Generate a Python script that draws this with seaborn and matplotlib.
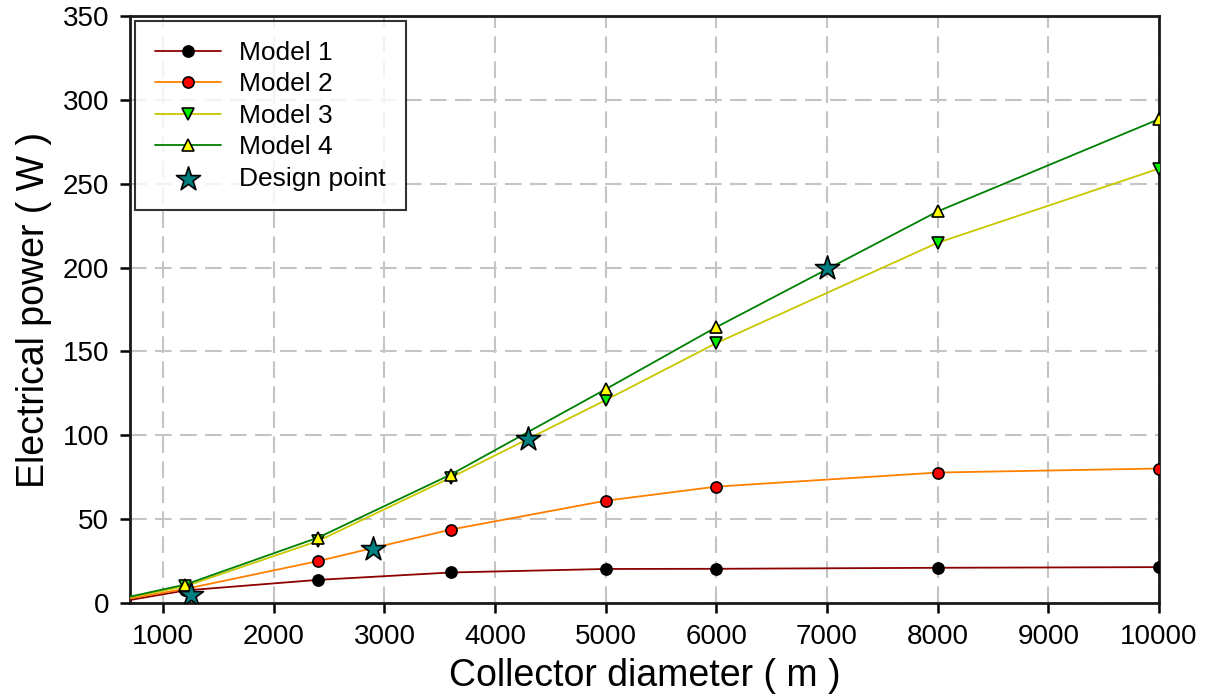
import numpy as np
import pandas as pd
import seaborn as sns
import matplotlib.pyplot as plt

# collector diameter (m); first value is where the curves start, without a marker
diameter = [700, 1200, 2400, 3600, 5000, 6000, 8000, 10000]

# electrical power (W)
model_1 = [1.8, 7.5, 13.8, 18.2, 20.3, 20.4, 21.0, 21.4]
model_2 = [2.8, 8.4, 25.0, 43.8, 61.0, 69.4, 77.8, 80.2]
model_3 = [3.5, 10.0, 37.0, 74.8, 121.0, 155.0, 214.8, 259.0]
model_4 = [3.8, 11.0, 39.0, 76.6, 127.5, 164.5, 233.5, 288.5]

design_x = [1250, 2900, 4300, 7000]
design_y = [5, 32, 98, 200]

x_ticks = [1000, 2000, 3000, 4000, 5000, 6000, 7000, 8000, 9000, 10000]
y_ticks = [0, 50, 100, 150, 200, 250, 300, 350]

sns.set_style("white")
plt.rcParams["font.family"] = ["Liberation Sans", "DejaVu Sans"]
plt.rcParams["text.color"] = "black"
plt.rcParams["axes.labelcolor"] = "black"
plt.rcParams["xtick.color"] = "black"
plt.rcParams["ytick.color"] = "black"

fig = plt.figure(figsize=(12.08, 6.96), dpi=100)
ax = fig.add_axes([0.1076, 0.1336, 0.8518, 0.8434])

styles = [
    ("Model 1", model_1, "#8b0000", "o", "black"),
    ("Model 2", model_2, "#ff8000", "o", "#ff0000"),
    ("Model 3", model_3, "#c8c800", "v", "#00ee00"),
    ("Model 4", model_4, "#008000", "^", "#ffff00"),
]

for name, vals, col, mk, face in styles:
    df = pd.DataFrame({"x": diameter, "y": vals})
    sns.lineplot(data=df, x="x", y="y", ax=ax, color=col, lw=1.3, label=name,
                 marker=mk, markersize=8, markerfacecolor=face,
                 markeredgecolor="black", markeredgewidth=1.2,
                 markevery=list(range(1, len(diameter))), zorder=3)

sns.scatterplot(x=design_x, y=design_y, ax=ax, marker="*", s=330,
                color="#008080", edgecolor="black", linewidth=1.2,
                label="Design point", zorder=4)

ax.set_xlim(700, 10000)
ax.set_ylim(0, 350)
ax.set_xticks(x_ticks)
ax.set_yticks(y_ticks)

ax.grid(True, color="#c4c4c4", lw=1.5, linestyle=(0, (8, 4)))
ax.set_axisbelow(True)

for s in ax.spines.values():
    s.set_linewidth(2)
    s.set_color("#1a1a1a")

ax.tick_params(axis="both", direction="out", length=7, width=1.8,
               labelsize=20, bottom=True, left=True, top=False, right=False,
               pad=8)

ax.set_xlabel("Collector diameter ( m )", fontsize=27, labelpad=6)
ax.set_ylabel("Electrical power ( W )", fontsize=27, labelpad=8,
              family=["Liberation Sans Narrow", "Liberation Sans"])

leg = ax.legend(loc="upper left", fontsize=19, frameon=True, fancybox=False,
                edgecolor="black", borderaxespad=0.2, handlelength=2.5,
                handletextpad=0.7, labelspacing=0.28, borderpad=0.75)
leg.get_frame().set_linewidth(1.5)

fig.savefig("out.png", dpi=100)
